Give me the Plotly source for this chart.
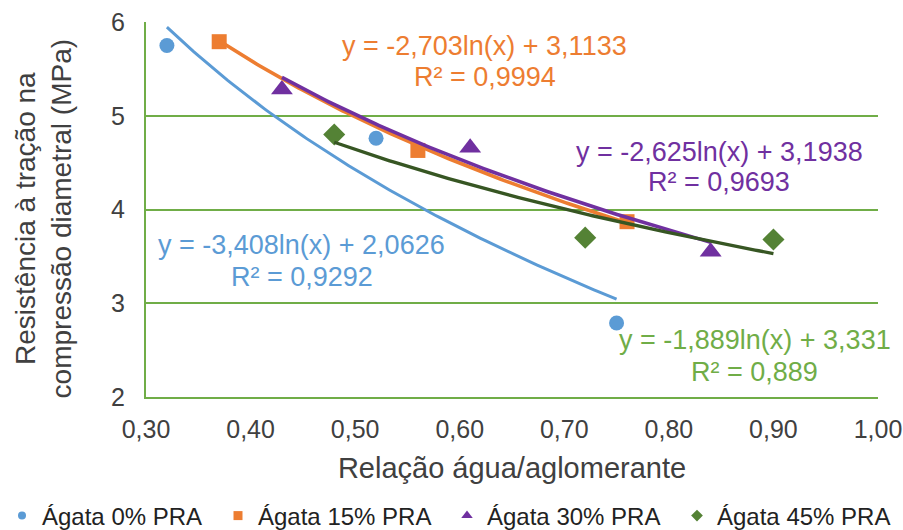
import numpy as np
import plotly.graph_objects as go

# Relação água/aglomerante vs resistência à tração por compressão diametral
series_names = ["Ágata 0% PRA", "Ágata 15% PRA", "Ágata 30% PRA", "Ágata 45% PRA"]
x_0 = [0.32, 0.52, 0.75]
y_0 = [5.75, 4.76, 2.79]
x_15 = [0.37, 0.56, 0.76]
y_15 = [5.79, 4.63, 3.87]
x_30 = [0.43, 0.61, 0.84]
y_30 = [5.28, 4.66, 3.55]
x_45 = [0.48, 0.72, 0.90]
y_45 = [4.80, 3.70, 3.68]

# logarithmic trend coefficients: y = a*ln(x) + b
trend_a = [-3.408, -2.703, -2.625, -1.889]
trend_b = [2.0626, 3.1133, 3.1938, 3.331]
trend_r2 = ["0,9292", "0,9994", "0,9693", "0,889"]

marker_colors = ["#5B9BD5", "#ED7D31", "#7030A0", "#548235"]
line_colors = ["#5B9BD5", "#ED7D31", "#7030A0", "#375623"]
label_colors = ["#5B9BD5", "#ED7D31", "#7030A0", "#70AD47"]
symbols = ["circle", "square", "triangle-up", "diamond"]
marker_sizes = [15, 15, 19, 17]
legend_sizes = [8, 9, 10, 9]
line_widths = [3, 3.6, 3.6, 3.4]

xs = [x_0, x_15, x_30, x_45]
ys = [y_0, y_15, y_30, y_45]

FONT = "Liberation Sans, Arial, sans-serif"
GRID = "#70AD47"
legend_ids = ["legend", "legend2", "legend3", "legend4"]
legend_x = [2, 218, 447, 677]

fig = go.Figure()

for i in range(4):
    fig.add_trace(go.Scatter(
        x=xs[i], y=ys[i], mode="markers", showlegend=False,
        marker=dict(symbol=symbols[i], size=marker_sizes[i], color=marker_colors[i]),
    ))

for i in range(4):
    xt = np.linspace(min(xs[i]), max(xs[i]), 120)
    yt = trend_a[i] * np.log(xt) + trend_b[i]
    fig.add_trace(go.Scatter(
        x=xt, y=yt, mode="lines", showlegend=False,
        line=dict(color=line_colors[i], width=line_widths[i]),
    ))

# legend entries with small symbols, one legend box per series
for i in range(4):
    fig.add_trace(go.Scatter(
        x=[None], y=[None], mode="markers", name=series_names[i],
        legend=legend_ids[i],
        marker=dict(symbol=symbols[i], size=legend_sizes[i], color=marker_colors[i]),
    ))


def fmt(v, nd):
    return f"{v:.{nd}f}".replace(".", ",")


eq_pos = [(0.449, 3.621, 3.280), (0.624, 5.744, 5.413),
          (0.848, 4.613, 4.293), (0.882, 2.608, 2.267)]
decimals_b = [4, 4, 4, 3]
for i in range(4):
    cx, y_eq, y_r2 = eq_pos[i]
    lines = [
        (y_eq, f"y = {fmt(trend_a[i], 3)}ln(x) + {fmt(trend_b[i], decimals_b[i])}"),
        (y_r2, f"R² = {trend_r2[i]}"),
    ]
    for yy, txt in lines:
        fig.add_annotation(
            x=cx, y=yy, xref="x", yref="y", text=txt, showarrow=False,
            font=dict(family=FONT, size=27, color=label_colors[i]),
        )

# vertical axis title, two lines
fig.add_annotation(
    x=-0.14, y=0.475, xref="paper", yref="paper", textangle=-90,
    xanchor="center", yanchor="middle",
    text="Resistência à tração na<br>compressão diametral (MPa)",
    showarrow=False, font=dict(family=FONT, size=28, color="#404040"),
)

legend_common = dict(
    orientation="h", xref="container", yref="container",
    yanchor="middle", xanchor="left",
    font=dict(family=FONT, size=24, color="#222222"),
    itemwidth=30, bgcolor="rgba(0,0,0,0)", borderwidth=0,
)
legends = {}
for i, lid in enumerate(legend_ids):
    legends[lid] = dict(legend_common, x=legend_x[i] / 903, y=14 / 530)

fig.update_layout(
    width=903, height=530,
    margin=dict(l=146, r=25, t=22, b=133, autoexpand=False),
    paper_bgcolor="white", plot_bgcolor="white",
    separators=",.",
    font=dict(family=FONT, color="#404040"),
    **legends,
    xaxis=dict(
        range=[0.3, 1.0], dtick=0.1, tick0=0.3, tickformat=".2f",
        showgrid=False, zeroline=False,
        showline=True, linecolor=GRID, linewidth=2,
        ticks="", ticklabelstandoff=9,
        tickfont=dict(family=FONT, size=25, color="#404040"),
        title=dict(text="Relação água/aglomerante",
                   font=dict(family=FONT, size=29, color="#404040"), standoff=16),
    ),
    yaxis=dict(
        range=[2, 6], dtick=1,
        showgrid=True, gridcolor=GRID, gridwidth=2,
        zeroline=False, showline=True, linecolor=GRID, linewidth=2,
        ticks="", ticklabelstandoff=14,
        tickfont=dict(family=FONT, size=25, color="#404040"),
    ),
)

fig.write_html("out.html")
